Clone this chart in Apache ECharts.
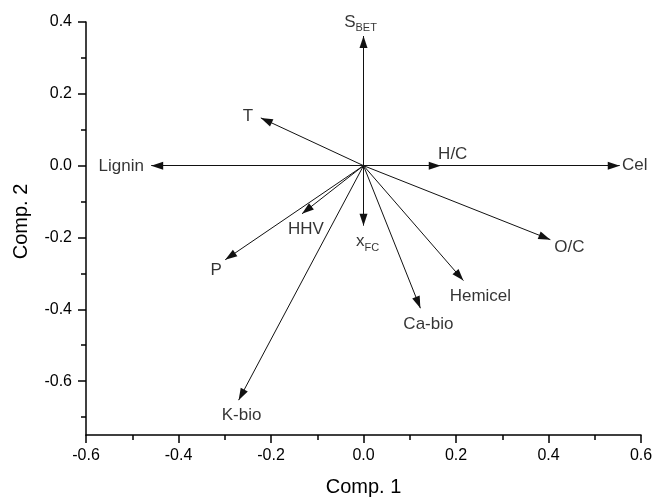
<!DOCTYPE html>
<html>
<head>
<meta charset="utf-8">
<title>PCA loadings</title>
<script src="https://cdn.jsdelivr.net/npm/echarts@6/dist/echarts.min.js"></script>
<style>
  html, body { margin: 0; padding: 0; background: #fff; }
  #chart { width: 655px; height: 499px; }
</style>
</head>
<body>
<div id="chart"></div>
<script>
// Variable names ("_" starts a subscript) and their loadings on the two components
const varNames = ['S_BET', 'T', 'H/C', 'Cel', 'Lignin', 'O/C', 'Hemicel', 'Ca-bio', 'x_FC', 'HHV', 'P', 'K-bio'];
const comp1 = [0.000, -0.222, 0.167, 0.554, -0.459, 0.404, 0.216, 0.123, 0.000, -0.133, -0.299, -0.270];
const comp2 = [0.361, 0.133, 0.000, 0.000, 0.000, -0.206, -0.320, -0.397, -0.167, -0.134, -0.262, -0.653];

// Axis ticks
const xMajorTicks = [-0.6, -0.4, -0.2, 0.0, 0.2, 0.4, 0.6];
const xMinorTicks = [-0.5, -0.3, -0.1, 0.1, 0.3, 0.5];
const yMajorTicks = [-0.6, -0.4, -0.2, 0.0, 0.2, 0.4];
const yMinorTicks = [-0.7, -0.5, -0.3, -0.1, 0.1, 0.3];

// Label placement (pixel offsets from each arrow tip to the label centre)
const labelOffsets = [
  [-3, -14], [-13, -2], [12, -11], [15, 0], [-30, 1], [19, 8],
  [17, 16], [8, 16], [4, 16], [4, 16], [-9, 11], [3, 15]
];

const FONT = '"Liberation Sans", Arial, sans-serif';
const ARROW = 'path://M5,12 L10,24 L0,24 Z M5,0';

function richName(n) {
  const k = n.indexOf('_');
  return k < 0 ? '{m|' + n + '}' : '{m|' + n.slice(0, k) + '}{s|' + n.slice(k + 1) + '}';
}

const axisLineStyle = { color: '#000', width: 1.5 };
const tickLabelStyle = { color: '#000', fontSize: 16, fontFamily: FONT };

const chart = echarts.init(document.getElementById('chart'), null, { renderer: 'canvas' });

chart.setOption({
  animation: false,
  backgroundColor: '#fff',
  grid: { left: 86, right: 14, top: 22, bottom: 64, containLabel: false, outerBoundsMode: 'none' },
  xAxis: [
    {
      type: 'value', min: -0.6, max: 0.6, position: 'bottom',
      name: 'Comp. 1', nameLocation: 'middle', nameGap: 42,
      nameTextStyle: { color: '#000', fontSize: 20, fontFamily: FONT },
      axisLine: { show: true, onZero: false, lineStyle: axisLineStyle },
      axisTick: { show: true, length: 8, customValues: xMajorTicks, lineStyle: axisLineStyle },
      axisLabel: Object.assign({ margin: 13, customValues: xMajorTicks,
        formatter: v => v.toFixed(1) }, tickLabelStyle),
      splitLine: { show: false }
    },
    {
      type: 'value', min: -0.6, max: 0.6, position: 'bottom',
      axisLine: { show: false, onZero: false },
      axisTick: { show: true, length: 5, customValues: xMinorTicks, lineStyle: axisLineStyle },
      axisLabel: { show: false },
      splitLine: { show: false }
    }
  ],
  yAxis: [
    {
      type: 'value', min: -0.75, max: 0.4, position: 'left',
      name: 'Comp. 2', nameLocation: 'middle', nameGap: 55,
      nameTextStyle: { color: '#000', fontSize: 20, fontFamily: FONT, padding: [0, 0, 0, 14] },
      axisLine: { show: true, onZero: false, lineStyle: axisLineStyle },
      axisTick: { show: true, length: 8, customValues: yMajorTicks, lineStyle: axisLineStyle },
      axisLabel: Object.assign({ margin: 14, customValues: yMajorTicks,
        formatter: v => v.toFixed(1) }, tickLabelStyle),
      splitLine: { show: false }
    },
    {
      type: 'value', min: -0.75, max: 0.4, position: 'left',
      axisLine: { show: false, onZero: false },
      axisTick: { show: true, length: 5, customValues: yMinorTicks, lineStyle: axisLineStyle },
      axisLabel: { show: false },
      splitLine: { show: false }
    }
  ],
  series: [
    {
      // loading vectors drawn from the origin
      type: 'lines',
      coordinateSystem: 'cartesian2d',
      xAxisIndex: 0, yAxisIndex: 0,
      symbol: ['none', ARROW],
      symbolSize: [[8, 24], [8, 24]],
      lineStyle: { color: '#111', width: 1, opacity: 1, curveness: 0 },
      silent: true,
      data: varNames.map((n, i) => ({ coords: [[0, 0], [comp1[i], comp2[i]]] }))
    },
    {
      // variable names next to the arrow tips
      type: 'scatter',
      xAxisIndex: 0, yAxisIndex: 0,
      symbol: 'circle', symbolSize: 0,
      silent: true,
      data: varNames.map((n, i) => ({
        value: [comp1[i], comp2[i]],
        name: n,
        label: { offset: labelOffsets[i] }
      })),
      label: {
        show: true,
        position: 'inside',
        align: 'center',
        verticalAlign: 'middle',
        formatter: p => richName(p.name),
        rich: {
          m: { fontSize: 17, color: '#000', fontFamily: FONT },
          s: { fontSize: 11, color: '#000', fontFamily: FONT, padding: [12, 0, 0, 0] }
        }
      }
    }
  ]
});
</script>
</body>
</html>
